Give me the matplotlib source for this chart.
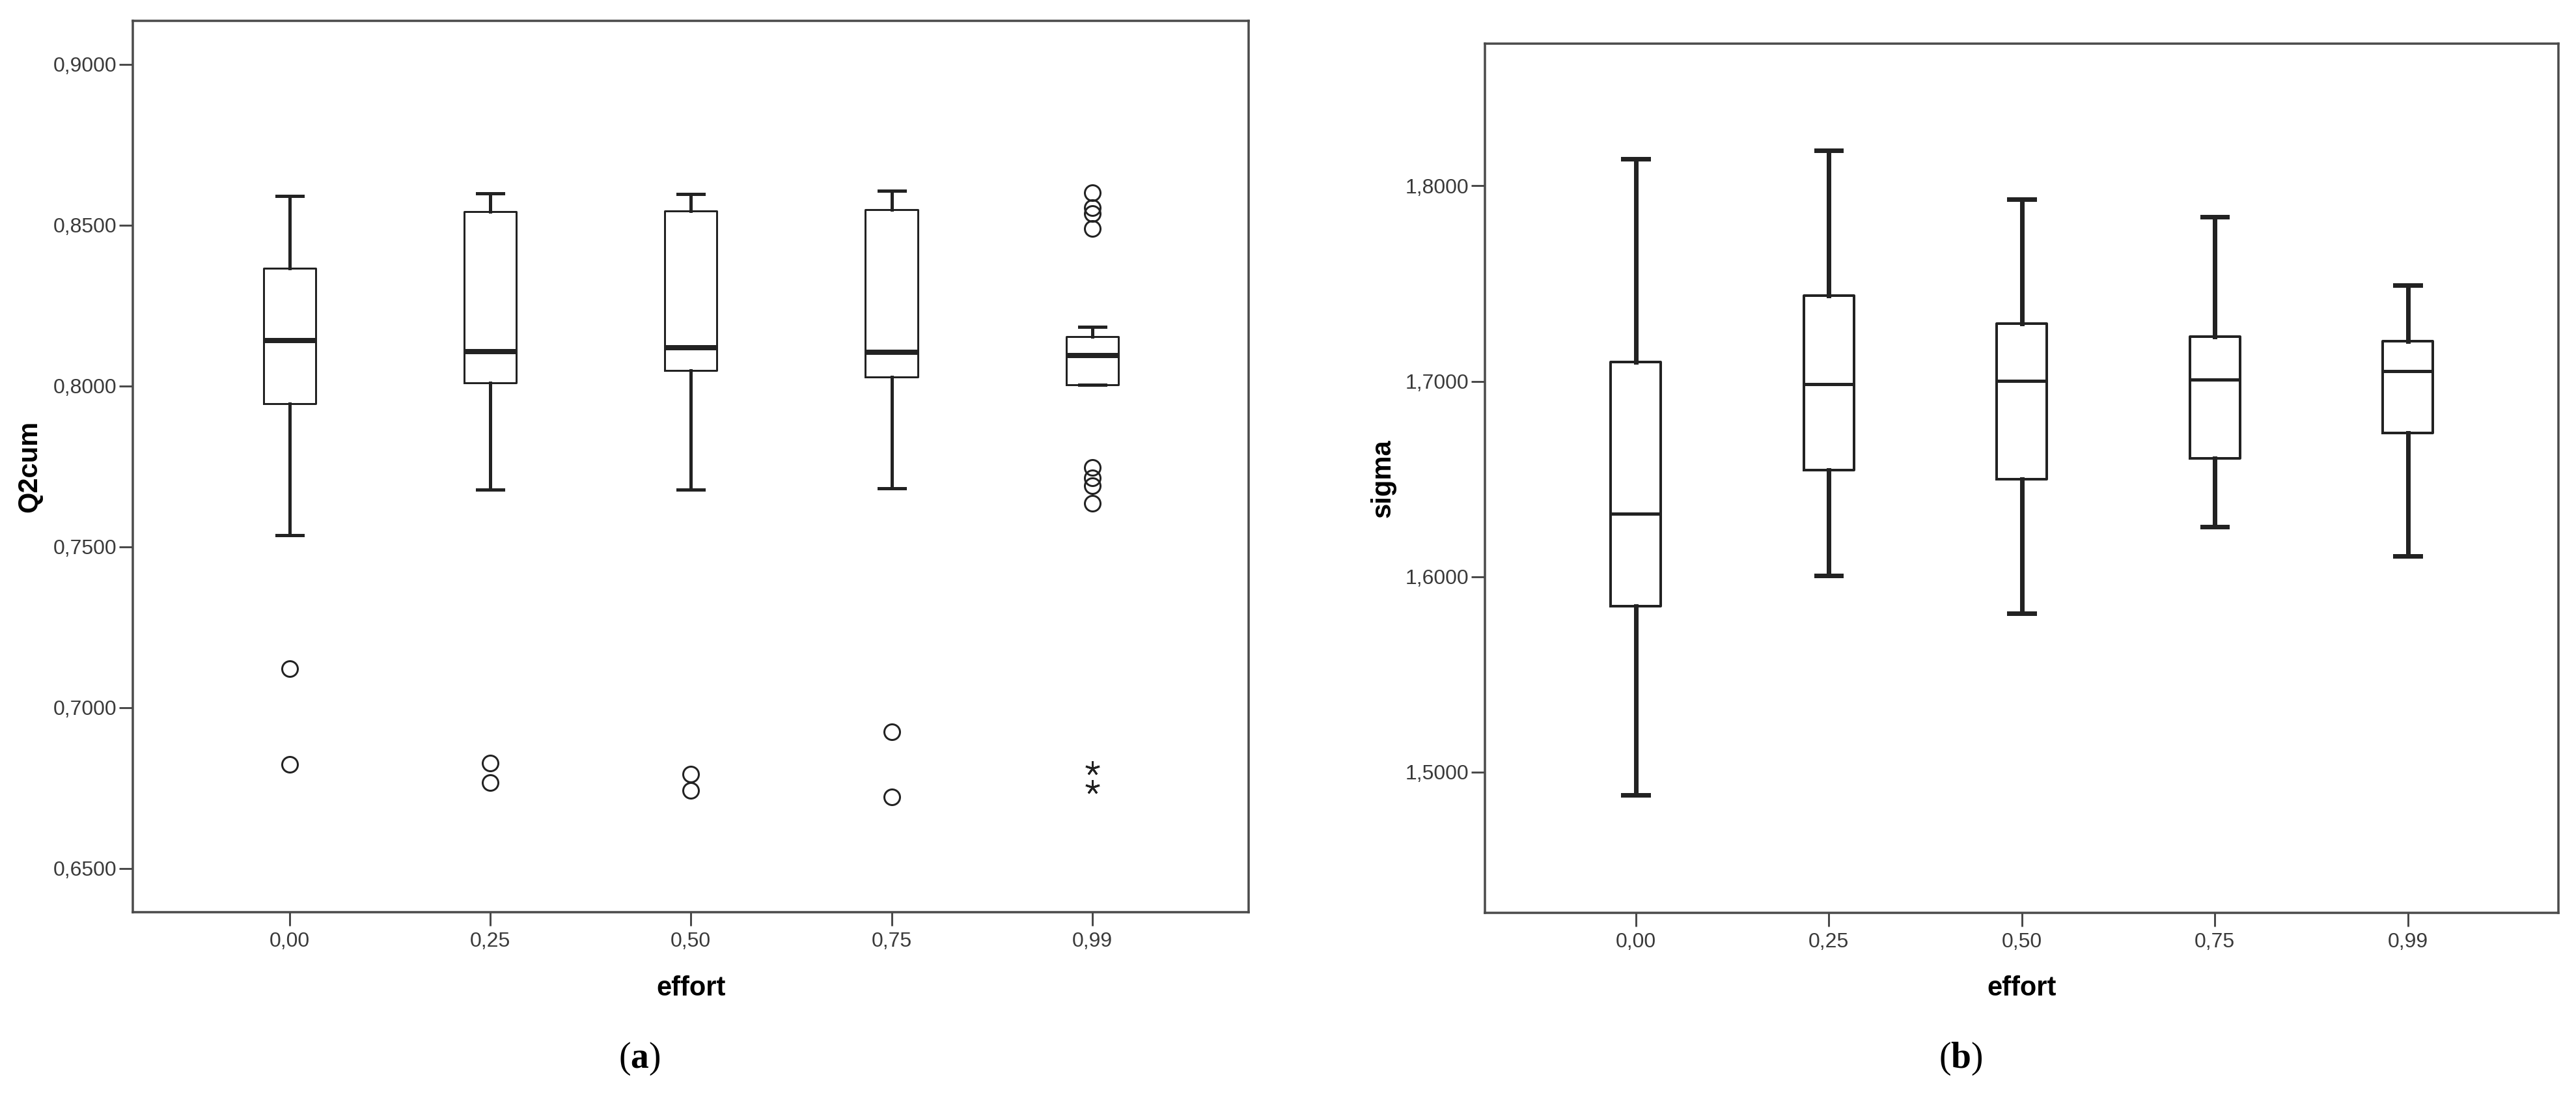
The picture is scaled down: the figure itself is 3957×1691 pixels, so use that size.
import numpy as np
import matplotlib.pyplot as plt

plt.rcParams['font.family'] = ['Liberation Sans', 'DejaVu Sans']
plt.rcParams['mathtext.fontset'] = 'custom'
plt.rcParams['mathtext.bf'] = 'Liberation Serif:bold'
plt.rcParams['mathtext.rm'] = 'Liberation Serif'

effort_labels = ['0,00', '0,25', '0,50', '0,75', '0,99']

# panel (a): Q2cum by effort
q2_whislo = [0.7536, 0.7678, 0.7678, 0.7682, 0.8003]
q2_q1 = [0.7945, 0.8009, 0.8049, 0.8027, 0.8003]
q2_med = [0.8142, 0.8107, 0.8119, 0.8104, 0.8095]
q2_q3 = [0.8365, 0.8542, 0.8545, 0.8549, 0.8154]
q2_whishi = [0.8591, 0.8598, 0.8597, 0.8606, 0.8184]
q2_outliers = [[0.7121, 0.6824],
               [0.6827, 0.6766],
               [0.6793, 0.6742],
               [0.6924, 0.6722],
               [0.8601, 0.8555, 0.8537, 0.8489, 0.7746, 0.7714, 0.7689, 0.7636]]
q2_extremes = [[], [], [], [], [0.6811, 0.6752]]
q2_ticks = [0.65, 0.70, 0.75, 0.80, 0.85, 0.90]

# panel (b): sigma by effort
sg_whislo = [1.4882, 1.6007, 1.5811, 1.6256, 1.6105]
sg_q1 = [1.5848, 1.6544, 1.6500, 1.6605, 1.6735]
sg_med = [1.6324, 1.6985, 1.7002, 1.7009, 1.7053]
sg_q3 = [1.7100, 1.7437, 1.7295, 1.7229, 1.7205]
sg_whishi = [1.8138, 1.8183, 1.7931, 1.7840, 1.7493]
sg_ticks = [1.5, 1.6, 1.7, 1.8]

line_col = '#222222'
frame_col = '#4a4a4a'
px = 72 / 100  # points per pixel at dpi 100


def comma(v, nd):
    return f"{v:.{nd}f}".replace('.', ',')


def draw_panel(ax, whislo, q1, med, q3, whishi, fliers, box_lw, whisk_lw, med_lw):
    pos = np.arange(1, len(effort_labels) + 1)
    stats = []
    for i in range(len(pos)):
        stats.append(dict(whislo=whislo[i], q1=q1[i], med=med[i], q3=q3[i],
                          whishi=whishi[i], fliers=fliers[i]))
    ax.bxp(stats, positions=pos, widths=0.26, capwidths=0.13,
           boxprops=dict(color=line_col, linewidth=box_lw * px),
           whiskerprops=dict(color=line_col, linewidth=whisk_lw * px),
           capprops=dict(color=line_col, linewidth=whisk_lw * px),
           medianprops=dict(color=line_col, linewidth=med_lw * px, solid_capstyle='butt'),
           flierprops=dict(marker='o', markerfacecolor='none', markeredgecolor=line_col,
                           markersize=24 * px, markeredgewidth=3 * px, linestyle='none'))
    ax.set_xlim(0.22, 5.78)
    ax.set_xticks(pos)
    ax.set_xticklabels(effort_labels)
    for sp in ax.spines.values():
        sp.set_color(frame_col)
        sp.set_linewidth(3.5 * px)
    ax.tick_params(direction='out', length=21 * px, width=3 * px, color=frame_col,
                   labelsize=23, labelcolor='#3a3a3a')
    ax.tick_params(axis='x', pad=9 * px)
    ax.tick_params(axis='y', pad=4 * px)


fig = plt.figure(figsize=(39.57, 16.91), dpi=100)

ax1 = fig.add_axes([0.0516, 0.1715, 0.4332, 0.8098])
draw_panel(ax1, q2_whislo, q2_q1, q2_med, q2_q3, q2_whishi, q2_outliers, 3, 5, 8)
pos = np.arange(1, len(effort_labels) + 1)
for p, vals in zip(pos, q2_extremes):
    if vals:
        ax1.plot([p] * len(vals), vals, linestyle='none', marker=(5, 2, 0),
                 markersize=22 * px, markeredgewidth=3 * px, color=line_col)
ax1.set_ylim(0.6364, 0.9136)
ax1.set_yticks(q2_ticks)
ax1.set_yticklabels([comma(v, 4) for v in q2_ticks])
ax1.set_ylabel('Q2cum', fontsize=30, fontweight='bold', va='center')
ax1.yaxis.set_label_coords(-0.093, 0.5)
ax1.set_xlabel('effort', fontsize=30, fontweight='bold', va='center')
ax1.xaxis.set_label_coords(0.5, -0.0855)

ax2 = fig.add_axes([0.5765, 0.1709, 0.4167, 0.7895])
draw_panel(ax2, sg_whislo, sg_q1, sg_med, sg_q3, sg_whishi, [[]] * 5, 4, 7, 5)
ax2.set_ylim(1.428, 1.8728)
ax2.set_yticks(sg_ticks)
ax2.set_yticklabels([comma(v, 4) for v in sg_ticks])
ax2.set_ylabel('sigma', fontsize=30, fontweight='bold', va='center')
ax2.yaxis.set_label_coords(-0.095, 0.5)
ax2.set_xlabel('effort', fontsize=30, fontweight='bold', va='center')
ax2.xaxis.set_label_coords(0.5, -0.087)

fig.text(0.2482, 0.038, r'($\mathbf{a}$)', fontsize=40, family='Liberation Serif',
         ha='center', va='center')
fig.text(0.761, 0.038, r'($\mathbf{b}$)', fontsize=40, family='Liberation Serif',
         ha='center', va='center')

fig.savefig('out.png', dpi=100)
